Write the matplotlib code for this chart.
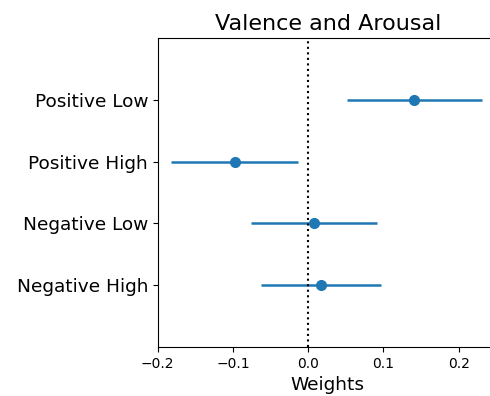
import matplotlib
matplotlib.use("Agg")
import matplotlib.pyplot as plt
import numpy as np

labels = ["Negative High", "Negative Low", "Positive High", "Positive Low"]
weights = [0.017, 0.008, -0.098, 0.141]
errors = [0.080, 0.084, 0.084, 0.090]

fig = plt.figure(figsize=(4.9, 3.96), dpi=100)
ax = fig.add_axes([0.322, 0.124, 0.694, 0.780])

y = np.arange(len(labels))
ax.errorbar(weights, y, xerr=errors, fmt='o', color="#1f77b4", lw=1.8, markersize=7)
ax.axvline(0, color="black", ls=':', lw=1.5)

ax.set_yticks(y)
ax.set_yticklabels(labels, fontsize=13.3)
ax.set_ylim(-1, 4)
ax.set_xlim(-0.2, 0.252)
ax.set_xticks([-0.2, -0.1, 0.0, 0.1, 0.2])
ax.tick_params(axis='x', labelsize=10)
ax.set_xlabel("Weights", fontsize=13.3)
ax.set_title("Valence and Arousal", fontsize=16)
ax.spines['right'].set_visible(False)

fig.savefig("out.png", dpi=100)
